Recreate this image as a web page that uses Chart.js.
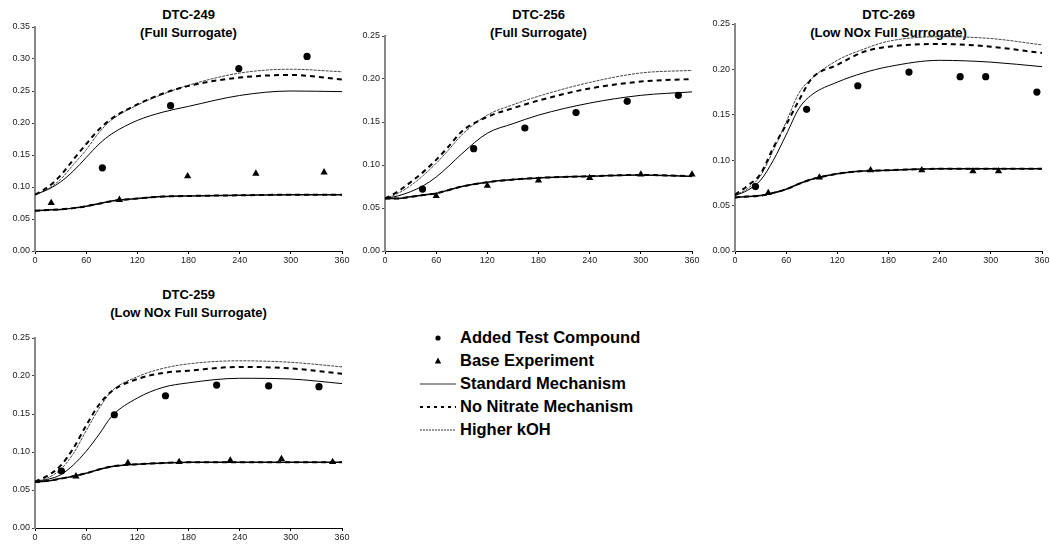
<!DOCTYPE html>
<html>
<head>
<meta charset="utf-8">
<script src="https://cdn.jsdelivr.net/npm/chart.js@4.4.1/dist/chart.umd.min.js"></script>
<style>
  body { margin: 0; background: #fff; width: 1050px; height: 550px; position: relative; overflow: hidden; font-family: "Liberation Sans", Arial, sans-serif; }
  canvas { position: absolute; }
  .title { position: absolute; width: 307px; text-align: center; font-weight: bold; font-size: 13px; line-height: 18px; color: #000; }
  #legend { position: absolute; left: 420px; top: 326px; }
  .row { height: 23px; display: flex; align-items: center; font-weight: bold; font-size: 16.5px; color: #000; }
  .row svg { width: 36px; height: 12px; margin-right: 4px; }
</style>
</head>
<body>

<div class="title" style="left:35px;top:6px">DTC-249<br>(Full Surrogate)</div>
<div class="title" style="left:385px;top:6px">DTC-256<br>(Full Surrogate)</div>
<div class="title" style="left:735px;top:6px">DTC-269<br>(Low NOx Full Surrogate)</div>
<div class="title" style="left:35px;top:286px">DTC-259<br>(Low NOx Full Surrogate)</div>

<canvas id="c249"></canvas>
<canvas id="c256"></canvas>
<canvas id="c269"></canvas>
<canvas id="c259"></canvas>

<div id="legend">
  <div class="row"><svg viewBox="0 0 36 12"><circle cx="18" cy="6" r="2.6" fill="#000"/></svg>Added Test Compound</div>
  <div class="row"><svg viewBox="0 0 36 12"><polygon points="18,2.5 21.2,8.5 14.8,8.5" fill="#000"/></svg>Base Experiment</div>
  <div class="row"><svg viewBox="0 0 36 12"><line x1="0" y1="6" x2="36" y2="6" stroke="#333" stroke-width="1"/></svg>Standard Mechanism</div>
  <div class="row"><svg viewBox="0 0 36 12"><line x1="0" y1="6" x2="36" y2="6" stroke="#000" stroke-width="2" stroke-dasharray="3,4"/></svg>No Nitrate Mechanism</div>
  <div class="row"><svg viewBox="0 0 36 12"><line x1="0" y1="6" x2="36" y2="6" stroke="#333" stroke-width="1" stroke-dasharray="2,1"/></svg>Higher kOH</div>
</div>

<script>
// model output times (minutes)
const times = [0, 15, 30, 45, 60, 75, 90, 120, 150, 180, 240, 300, 360];

// DTC-249
const std249   = [0.088, 0.096, 0.108, 0.125, 0.146, 0.167, 0.183, 0.204, 0.217, 0.226, 0.243, 0.250, 0.249];
const noNit249 = [0.088, 0.100, 0.118, 0.143, 0.167, 0.190, 0.207, 0.229, 0.246, 0.258, 0.271, 0.275, 0.268];
const hiKoh249 = [0.088, 0.097, 0.112, 0.135, 0.158, 0.185, 0.205, 0.228, 0.245, 0.259, 0.278, 0.284, 0.280];
const base249  = [0.063, 0.064, 0.065, 0.067, 0.070, 0.074, 0.078, 0.082, 0.085, 0.086, 0.087, 0.088, 0.088];
const addedT249 = [79, 159, 239, 319];
const added249  = [0.130, 0.227, 0.285, 0.304];
const baseT249  = [19, 99, 179, 259, 339];
const baseExp249 = [0.075, 0.080, 0.117, 0.121, 0.123];

// DTC-256
const std256   = [0.061, 0.064, 0.069, 0.076, 0.086, 0.099, 0.113, 0.137, 0.148, 0.158, 0.172, 0.181, 0.185];
const noNit256 = [0.061, 0.069, 0.080, 0.092, 0.106, 0.122, 0.139, 0.156, 0.166, 0.175, 0.189, 0.197, 0.200];
const hiKoh256 = [0.061, 0.067, 0.076, 0.088, 0.102, 0.118, 0.135, 0.158, 0.170, 0.180, 0.196, 0.207, 0.210];
const base256  = [0.061, 0.061, 0.063, 0.065, 0.067, 0.071, 0.075, 0.080, 0.083, 0.085, 0.087, 0.0885, 0.087];
const addedT256 = [44, 104, 164, 224, 284, 344];
const added256  = [0.072, 0.119, 0.143, 0.161, 0.174, 0.181];
const baseT256  = [60, 120, 180, 240, 300, 360];
const baseExp256 = [0.064, 0.076, 0.082, 0.085, 0.089, 0.089];

// DTC-269
const std269   = [0.061, 0.067, 0.078, 0.100, 0.128, 0.157, 0.172, 0.186, 0.196, 0.203, 0.210, 0.208, 0.203];
const noNit269 = [0.062, 0.072, 0.085, 0.114, 0.139, 0.166, 0.190, 0.205, 0.219, 0.225, 0.228, 0.225, 0.218];
const hiKoh269 = [0.061, 0.069, 0.083, 0.111, 0.142, 0.174, 0.190, 0.210, 0.222, 0.231, 0.236, 0.234, 0.227];
const base269  = [0.059, 0.060, 0.061, 0.064, 0.068, 0.074, 0.079, 0.085, 0.088, 0.089, 0.0905, 0.0905, 0.0905];
const addedT269 = [24, 84, 144, 204, 264, 294, 354];
const added269  = [0.071, 0.156, 0.182, 0.197, 0.192, 0.192, 0.175];
const baseT269  = [39, 99, 159, 219, 279, 309, 368];
const baseExp269 = [0.064, 0.081, 0.089, 0.089, 0.088, 0.088, 0.085];

// DTC-259
const std259   = [0.061, 0.064, 0.070, 0.083, 0.101, 0.123, 0.147, 0.171, 0.185, 0.191, 0.197, 0.196, 0.190];
const noNit259 = [0.061, 0.069, 0.082, 0.105, 0.135, 0.162, 0.180, 0.196, 0.204, 0.207, 0.212, 0.210, 0.203];
const hiKoh259 = [0.061, 0.066, 0.077, 0.098, 0.128, 0.157, 0.180, 0.199, 0.210, 0.216, 0.220, 0.218, 0.212];
const base259  = [0.0605, 0.062, 0.065, 0.068, 0.072, 0.077, 0.081, 0.084, 0.0855, 0.0865, 0.0865, 0.0865, 0.0865];
const addedT259 = [31, 93, 153, 213, 274, 333];
const added259  = [0.075, 0.149, 0.174, 0.188, 0.187, 0.186];
const baseT259  = [48, 109, 169, 229, 289, 349];
const baseExp259 = [0.068, 0.0855, 0.087, 0.089, 0.091, 0.087];

const xTicks = [0, 60, 120, 180, 240, 300, 360];

function pts(xs, ys) {
  return ys.map((y, i) => ({x: xs[i], y: y}));
}

function lineSet(label, ys, style) {
  return Object.assign({
    label: label,
    data: pts(times, ys),
    showLine: true,
    pointRadius: 0,
    borderColor: '#000',
    borderWidth: 1,
    cubicInterpolationMode: 'monotone',
    fill: false
  }, style);
}

// plot area in page pixels: left, top, right, bottom
function createChart(id, box, yMax, d) {
  const padTop = 8, padRight = 8, yW = 35, xH = 20;
  const canvas = document.getElementById(id);
  const w = box[2] - box[0] + yW + padRight;
  const h = box[3] - box[1] + padTop + xH;
  canvas.style.left = (box[0] - yW) + 'px';
  canvas.style.top = (box[1] - padTop) + 'px';
  canvas.style.width = w + 'px';
  canvas.style.height = h + 'px';
  canvas.width = w;
  canvas.height = h;

  new Chart(canvas.getContext('2d'), {
    type: 'scatter',
    data: {
      datasets: [
        { label: 'Added Test Compound', data: pts(d.addedT, d.added), pointStyle: 'circle',
          pointRadius: 3.6, backgroundColor: '#000', borderColor: '#000', borderWidth: 0 },
        { label: 'Base Experiment', data: pts(d.baseT, d.baseExp), pointStyle: 'triangle',
          pointRadius: 4.2, backgroundColor: '#000', borderColor: '#000', borderWidth: 0, clip: false },
        lineSet('No Nitrate Mechanism', d.noNit, { borderWidth: 2, borderDash: [5, 4] }),
        lineSet('Standard Mechanism', d.std, { borderWidth: 1 }),
        lineSet('Higher kOH', d.hiKoh, { borderColor: '#444', borderWidth: 1, borderDash: [3, 1] }),
        lineSet('Base No Nitrate', d.base, { borderWidth: 2, borderDash: [5, 4] }),
        lineSet('Base Standard', d.base, { borderWidth: 1.5 })
      ]
    },
    options: {
      responsive: false,
      // zero-length animation keeps points past the axis end (e.g. t=368) in the draw range
      animation: { duration: 0 },
      layout: { padding: { top: padTop, right: padRight, left: 0, bottom: 0 } },
      plugins: { legend: { display: false }, tooltip: { enabled: false }, title: { display: false } },
      scales: {
        x: {
          type: 'linear', min: 0, max: 360,
          afterBuildTicks: s => { s.ticks = xTicks.map(v => ({value: v})); },
          afterFit: s => { s.height = xH; s.paddingLeft = 0; s.paddingRight = 0; },
          border: { color: '#000', width: 1 },
          grid: { drawOnChartArea: false, drawTicks: true, tickLength: 3, color: '#000' },
          ticks: { color: '#222', font: { family: 'Liberation Sans', size: 9 }, padding: 1, maxRotation: 0 }
        },
        y: {
          type: 'linear', min: 0, max: yMax,
          afterFit: s => { s.width = yW; s.paddingTop = 0; s.paddingBottom = 0; },
          border: { color: '#888', width: 2 },
          grid: { drawOnChartArea: false, drawTicks: true, tickLength: 3, color: '#444' },
          ticks: { stepSize: 0.05, color: '#222', font: { family: 'Liberation Sans', size: 9 }, padding: 2,
                   callback: v => v.toFixed(2) }
        }
      }
    }
  });
}

createChart('c249', [35, 27, 342, 251], 0.35,
  { std: std249, noNit: noNit249, hiKoh: hiKoh249, base: base249,
    addedT: addedT249, added: added249, baseT: baseT249, baseExp: baseExp249 });
createChart('c256', [385, 36, 692, 251], 0.25,
  { std: std256, noNit: noNit256, hiKoh: hiKoh256, base: base256,
    addedT: addedT256, added: added256, baseT: baseT256, baseExp: baseExp256 });
createChart('c269', [735, 24, 1042, 251], 0.25,
  { std: std269, noNit: noNit269, hiKoh: hiKoh269, base: base269,
    addedT: addedT269, added: added269, baseT: baseT269, baseExp: baseExp269 });
createChart('c259', [35, 338, 342, 528], 0.25,
  { std: std259, noNit: noNit259, hiKoh: hiKoh259, base: base259,
    addedT: addedT259, added: added259, baseT: baseT259, baseExp: baseExp259 });
</script>
</body>
</html>
